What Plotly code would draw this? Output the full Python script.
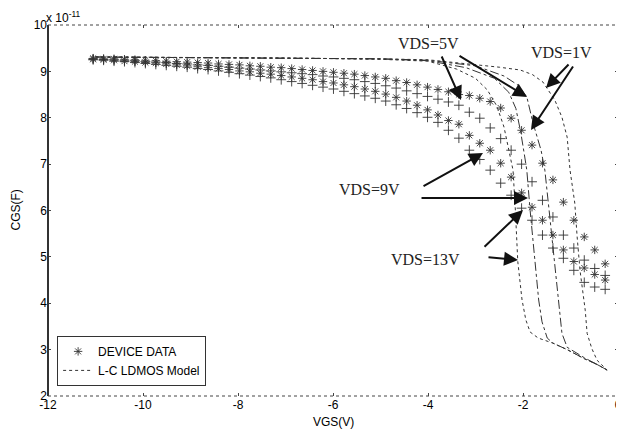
import plotly.graph_objects as go

# ---------------- data ----------------
vgs_data = [-11.05, -10.83, -10.61, -10.39, -10.17, -9.95, -9.73, -9.51, -9.29, -9.07,
            -8.85, -8.63, -8.41, -8.19, -7.97, -7.75, -7.53, -7.31, -7.09, -6.87,
            -6.65, -6.43, -6.21, -5.99, -5.77, -5.55, -5.33, -5.11, -4.89, -4.67,
            -4.45, -4.23, -4.01, -3.79, -3.57, -3.35, -3.13, -2.91, -2.69, -2.47,
            -2.25, -2.03, -1.81, -1.59, -1.37, -1.15, -0.93, -0.71, -0.49, -0.27]

cgs_data_vds1 = [9.28, 9.27, 9.27, 9.26, 9.25, 9.24, 9.23, 9.22, 9.21, 9.20,
                 9.19, 9.18, 9.16, 9.15, 9.14, 9.12, 9.11, 9.09, 9.08, 9.06,
                 9.04, 9.02, 9.00, 8.98, 8.96, 8.94, 8.91, 8.88, 8.85, 8.80,
                 8.76, 8.71, 8.66, 8.61, 8.56, 8.50, 8.48, 8.42, 8.35, 8.21,
                 7.99, 7.73, 7.41, 7.02, 6.66, 6.18, 5.79, 5.43, 5.15, 4.85]

cgs_data_vds5 = [9.27, 9.26, 9.25, 9.24, 9.23, 9.21, 9.20, 9.19, 9.17, 9.16,
                 9.14, 9.13, 9.11, 9.09, 9.07, 9.05, 9.03, 9.01, 8.99, 8.97,
                 8.95, 8.93, 8.90, 8.88, 8.85, 8.82, 8.78, 8.74, 8.69, 8.64,
                 8.58, 8.52, 8.46, 8.40, 8.34, 8.27, 8.12, 7.99, 7.78, 7.55,
                 7.30, 7.00, 6.62, 6.22, 5.86, 5.47, 5.19, 4.93, 4.75, 4.60]

cgs_data_vds9 = [9.26, 9.25, 9.24, 9.22, 9.21, 9.19, 9.18, 9.16, 9.14, 9.12,
                 9.10, 9.08, 9.06, 9.04, 9.01, 8.99, 8.96, 8.94, 8.91, 8.88,
                 8.85, 8.82, 8.78, 8.75, 8.71, 8.67, 8.62, 8.57, 8.51, 8.44,
                 8.36, 8.27, 8.17, 8.06, 7.94, 7.86, 7.62, 7.45, 7.30, 7.02,
                 6.72, 6.38, 6.07, 5.79, 5.47, 5.15, 4.90, 4.76, 4.62, 4.50]

cgs_data_vds13 = [9.25, 9.24, 9.22, 9.21, 9.19, 9.17, 9.15, 9.13, 9.11, 9.09,
                  9.06, 9.04, 9.01, 8.98, 8.95, 8.92, 8.89, 8.86, 8.82, 8.78,
                  8.74, 8.70, 8.66, 8.62, 8.57, 8.52, 8.47, 8.42, 8.36, 8.28,
                  8.20, 8.11, 8.01, 7.90, 7.73, 7.56, 7.30, 7.10, 6.87, 6.59,
                  6.33, 6.05, 5.79, 5.47, 5.19, 4.97, 4.71, 4.45, 4.35, 4.30]

model_vgs_vds1 = [-11.0, -9.0, -7.0, -5.0, -4.0, -3.1, -2.5, -2.06, -1.8, -1.58, -1.33,
                  -1.18, -1.07, -1.01, -0.91, -0.86, -0.80, -0.69, -0.65, -0.55, -0.44, -0.23]
model_cgs_vds1 = [9.31, 9.30, 9.29, 9.27, 9.25, 9.16, 9.09, 9.03, 8.93, 8.77, 8.38,
                  8.01, 7.58, 6.87, 6.16, 5.43, 4.71, 3.85, 3.35, 3.02, 2.77, 2.56]

model_vgs_vds5 = [-11.0, -9.0, -7.0, -5.0, -4.0, -3.0, -2.4, -2.1, -1.92, -1.79, -1.62,
                  -1.54, -1.45, -1.35, -1.26, -1.18, -1.07, -0.70, -0.44, -0.23]
model_cgs_vds5 = [9.31, 9.30, 9.29, 9.27, 9.24, 9.12, 8.90, 8.70, 8.45, 7.89, 7.30,
                  6.87, 6.00, 5.00, 4.07, 3.35, 3.05, 2.82, 2.68, 2.56]

model_vgs_vds9 = [-11.0, -9.0, -7.0, -5.0, -4.0, -3.2, -2.6, -2.3, -2.15, -2.05, -1.97,
                  -1.92, -1.85, -1.75, -1.67, -1.60, -1.49, -1.37, -1.07, -0.70, -0.44, -0.23]
model_cgs_vds9 = [9.31, 9.30, 9.29, 9.27, 9.23, 9.08, 8.85, 8.55, 8.20, 7.70, 7.20,
                  6.87, 6.00, 5.00, 4.07, 3.60, 3.25, 3.14, 3.00, 2.80, 2.68, 2.56]

model_vgs_vds13 = [-11.0, -9.0, -7.0, -5.0, -4.0, -3.4, -3.0, -2.75, -2.55, -2.40, -2.30,
                   -2.21, -2.16, -2.11, -2.02, -1.94, -1.85, -1.68, -1.37, -1.07, -0.70, -0.44, -0.23]
model_cgs_vds13 = [9.31, 9.30, 9.29, 9.26, 9.22, 9.05, 8.85, 8.60, 8.25, 7.80, 7.30,
                   6.87, 6.00, 4.90, 4.07, 3.64, 3.38, 3.25, 3.14, 3.00, 2.80, 2.68, 2.56]

x_ticks = [-12, -10, -8, -6, -4, -2, 0]
y_ticks = [2, 3, 4, 5, 6, 7, 8, 9, 10]

# ---------------- figure ----------------
fig = go.Figure()

model_series = [
    (model_vgs_vds1, model_cgs_vds1, "dot"),
    (model_vgs_vds5, model_cgs_vds5, "dashdot"),
    (model_vgs_vds9, model_cgs_vds9, "dashdot"),
    (model_vgs_vds13, model_cgs_vds13, "dot"),
]
data_series = [
    (cgs_data_vds1, "asterisk-open"),
    (cgs_data_vds5, "cross-thin-open"),
    (cgs_data_vds9, "asterisk-open"),
    (cgs_data_vds13, "cross-thin-open"),
]

for i, (ys, sym) in enumerate(data_series):
    fig.add_trace(go.Scatter(
        x=vgs_data, y=ys, mode="markers", name="DEVICE DATA",
        showlegend=(i == 0), legendrank=1,
        marker=dict(symbol=sym, size=7, color="#333",
                    line=dict(color="#333", width=0.9)),
    ))
for i, (xs, ys, dash) in enumerate(model_series):
    fig.add_trace(go.Scatter(
        x=xs, y=ys, mode="lines", name="L-C LDMOS Model",
        showlegend=(i == 0), legendrank=2,
        line=dict(color="#333", width=1, dash=dash),
    ))

serif = dict(family="Liberation Serif, Times New Roman, serif", size=16, color="#222")
labels = [
    ("VDS=5V", -4.0, 9.61),
    ("VDS=1V", -1.2, 9.40),
    ("VDS=9V", -5.24, 6.46),
    ("VDS=13V", -4.06, 4.95),
]
for t, x, y in labels:
    fig.add_annotation(x=x, y=y, xref="x", yref="y", text=t, showarrow=False, font=serif)

arrows = [
    (-3.305, 8.382, -3.726, 9.353),
    (-1.916, 8.447, -3.368, 9.353),
    (-1.516, 8.641, -1.011, 9.180),
    (-1.832, 7.735, -0.926, 9.137),
    (-2.842, 7.238, -4.126, 6.505),
    (-1.895, 6.268, -4.168, 6.268),
    (-2.000, 6.009, -2.842, 5.189),
    (-2.105, 4.930, -2.758, 4.995),
]
for hx, hy, tx, ty in arrows:
    fig.add_annotation(x=hx, y=hy, ax=tx, ay=ty, xref="x", yref="y",
                       axref="x", ayref="y", text="", showarrow=True,
                       arrowhead=2, arrowsize=1.4, arrowwidth=2, arrowcolor="#111")

sans = dict(family="Liberation Sans, Arial, sans-serif", size=12, color="black")
fig.add_annotation(x=0, y=1, xref="paper", yref="paper", xanchor="left", yanchor="bottom",
                   text="x 10<sup>-11</sup>", showarrow=False, font=sans, xshift=-4, yshift=-2)
fig.add_annotation(x=0.5, y=0, xref="paper", yref="paper", xanchor="center", yanchor="middle",
                   text="VGS(V)", showarrow=False, font=sans, yshift=-26)
fig.add_annotation(x=0, y=0.5, xref="paper", yref="paper", xanchor="center", yanchor="middle",
                   text="CGS(F)", showarrow=False, font=sans, textangle=-90, xshift=-33)

# axis frame: left solid, others dotted
fig.add_shape(type="line", xref="paper", yref="paper", x0=0, x1=0, y0=0, y1=1,
              line=dict(color="#333", width=2))
for x0, x1, y0, y1 in [(0, 1, 1, 1), (0, 1, 0, 0), (1, 1, 0, 1)]:
    fig.add_shape(type="line", xref="paper", yref="paper", x0=x0, x1=x1, y0=y0, y1=y1,
                  line=dict(color="#444", width=1, dash="dot"))

# page body has an 8px default margin, so the figure is sized to fit the window
fig.update_layout(
    width=616, height=424,
    margin=dict(l=40, r=6, t=17, b=36),
    paper_bgcolor="white", plot_bgcolor="white",
    font=sans,
    legend=dict(x=0.016, y=0.162, xanchor="left", yanchor="top",
                bordercolor="#333", borderwidth=1, bgcolor="white",
                font=dict(family="Liberation Sans, Arial, sans-serif", size=12, color="black"),
                itemwidth=30, tracegroupgap=0),
)
fig.update_xaxes(range=[-12, 0], tickvals=x_ticks, ticktext=[str(v) for v in x_ticks],
                 showgrid=False, zeroline=False, showline=False,
                 ticks="inside", ticklen=3, tickcolor="#444", mirror="ticks",
                 tickfont=sans, automargin=False)
fig.update_yaxes(range=[2, 10], tickvals=y_ticks, ticktext=[str(v) for v in y_ticks],
                 showgrid=False, zeroline=False, showline=False,
                 ticks="inside", ticklen=3, tickcolor="#444", mirror="ticks",
                 tickfont=sans, automargin=False)

fig.write_html("out.html")
